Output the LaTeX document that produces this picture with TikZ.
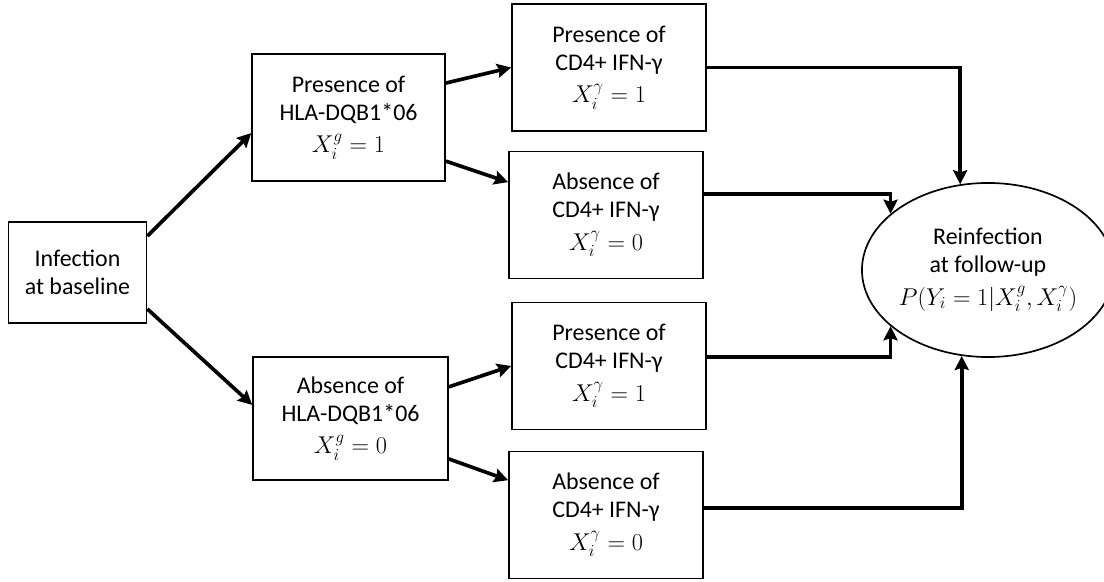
\documentclass[tikz,border=0pt]{standalone}
\usepackage{amssymb,amsmath}
\usepackage{fontspec}
\setmainfont{Carlito}
\usetikzlibrary{arrows.meta,shapes}
\usetikzlibrary{positioning}
\tikzset{
    stagebox/.style={draw=black, line width=1.2pt, align=center, inner sep=0pt,
        font=\fontsize{17}{20}\selectfont},
    riskbox/.style={stagebox, minimum width=4.85cm, minimum height=3.18cm},
    outcome/.style={ellipse, draw=black, line width=1.2pt, align=center, inner sep=0pt,
        font=\fontsize{17}{20}\selectfont, minimum width=5.65cm, minimum height=4.35cm},
    branch/.style={draw=black, line width=2.6pt,
        -{Stealth[length=10pt,width=10pt,inset=1.5pt]}}
}

\begin{document}
\begin{tikzpicture}[x=0.025cm,y=-0.025cm]
	\useasboundingbox (0,0) rectangle (1104,582);
	% baseline and genotype
	\node[stagebox, minimum width=3.45cm, minimum height=2.52cm] (inf) at (77.5,272.5) {Infection\\at baseline};
	\node[stagebox, minimum width=4.82cm, minimum height=3.17cm] (hp) at (348.5,117.5) {Presence of\\HLA-DQB1*06\\[3pt]$X_i^{g}=1$};
	\node[stagebox, minimum width=4.87cm, minimum height=3.07cm] (ha) at (350.5,418.5) {Absence of\\HLA-DQB1*06\\[3pt]$X_i^{g}=0$};
	% CD4+ response
	\node[riskbox] (b1) at (609,67.5) {Presence of\\CD4+ IFN-γ\\[3pt]$X_i^{\gamma}=1$};
	\node[riskbox] (b2) at (606,215) {Absence of\\CD4+ IFN-γ\\[3pt]$X_i^{\gamma}=0$};
	\node[riskbox] (b3) at (609,366) {Presence of\\CD4+ IFN-γ\\[3pt]$X_i^{\gamma}=1$};
	\node[riskbox] (b4) at (606,515) {Absence of\\CD4+ IFN-γ\\[3pt]$X_i^{\gamma}=0$};
	% outcome
	\node[outcome] (e) at (988,270) {Reinfection\\at follow-up\\[3pt]$P(Y_i=1|X_i^{g},X_i^{\gamma})$};

	\draw[branch] ([yshift=-0.37cm]inf.north east) -- ([yshift=-0.39cm]hp.west);
	\draw[branch] ([yshift=0.37cm]inf.south east) -- ([yshift=0.34cm]ha.west);
	\draw[branch] ([yshift=0.86cm]hp.east) -- (b1.west);
	\draw[branch] ([yshift=-1.09cm]hp.east) -- ([yshift=0.82cm]b2.west);
	\draw[branch] ([yshift=0.79cm]ha.east) -- (b3.west);
	\draw[branch] ([yshift=-1.01cm]ha.east) -- ([yshift=0.87cm]b4.west);
	\draw[branch] (b1.east) -| (e.108);
	\draw[branch] ([yshift=0.52cm]b2.east) -| (e.150);
	\draw[branch] ([yshift=0.22cm]b3.east) -| (e.210);
	\draw[branch] ([yshift=0.18cm]b4.east) -| (e.253);
\end{tikzpicture}
\end{document}
